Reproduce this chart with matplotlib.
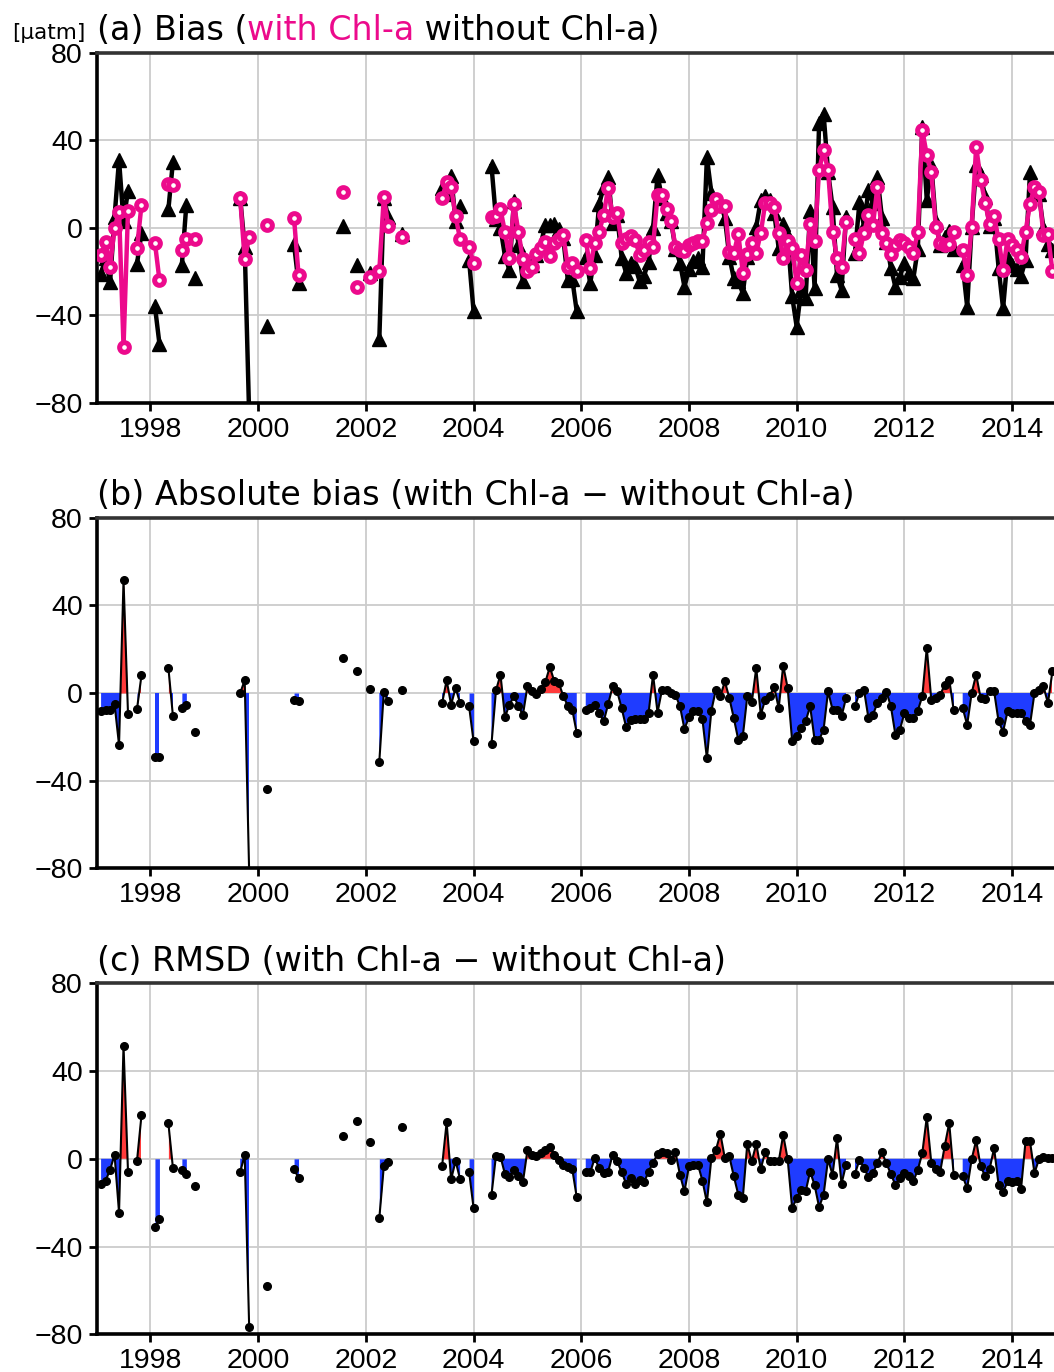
import numpy as np
import matplotlib
matplotlib.use('Agg')
import matplotlib.pyplot as plt
from matplotlib.transforms import offset_copy

nan = np.nan

# monthly values from Feb 1997, nan = no data
with_chl = [
    -12.5, -6.4, -18, 0, 7.3, -54.4, 7.8, nan, -9.5, 10.4, nan, nan,
    -6.9, -23.9, nan, 19.8, 19.5, nan, -10.2, -5.3, nan, -5.3, nan, nan,
    nan, nan, nan, nan, nan, nan, nan, 13.4, -14.5, -4.1, nan, nan,
    nan, 1.2, nan, nan, nan, nan, nan, 4.3, -21.6, nan, nan, nan,
    nan, nan, nan, nan, nan, nan, 16.5, nan, nan, -27.3, nan, nan,
    -22.4, nan, -19.7, 13.9, 0.9, nan, nan, -4.1, nan, nan, nan, nan,
    nan, nan, nan, nan, 13.4, 21, 18.4, 5.3, -5.3, nan, -8.7, -16,
    nan, nan, nan, 5, 5.3, 8.4, -2, -14, 10.8, -2, -14.5, -20,
    -17.8, -12, -9.5, -6.4, -13, -7.2, -5, -3.4, -18, -16, -20, nan,
    -5.6, -18.5, -6.8, -1.8, 5.8, 18.3, 5, 6.5, -6.8, -5, -4, -5.6,
    -12.5, -10, -6.4, -8.7, 15, 15, 8.4, 3.2, -8.7, -10, -10.5, -8,
    -7, -6, -6, 2.3, 8, 13, 10, 9.9, -11, -11.7, -2.9, -20.5,
    -12, -6.8, -11.4, -2.6, 11.4, 11.4, 9.6, -2.6, -14, -6, -9.4, -25.4,
    -12.5, -19.3, 1.7, -6, 26.3, 35.4, 26.3, -1.8, -14, -17.8, 2.7, nan,
    -5.3, -11.7, -2.3, 5.8, 1.2, 18.7, -2.3, -7.1, -12.2, -8, -5.6, -7,
    -9, -11.7, -1.8, 44.6, 33.2, 25.6, 0.5, -7.1, -8, -7.5, -1.8, nan,
    -10.2, -21.6, 0.5, 37, 22, 11.4, 1.5, 5.3, -5.3, -19.3, -5.3, -8,
    -10, -13.2, -1.8, 10.8, 18.7, 16.4, -3.3, -3, -20]

without_chl = [
    -21, -14, -25, 5, 31, 3, 17, nan, -16.5, -2.4, nan, nan,
    -36, -53, nan, 8.4, 30, nan, -17, 10.6, nan, -23, nan, nan,
    nan, nan, nan, nan, nan, nan, nan, 13.4, -8.7, -86, nan, nan,
    nan, -45, nan, nan, nan, nan, nan, -7.6, -25.4, nan, nan, nan,
    nan, nan, nan, nan, nan, nan, 0.7, nan, nan, -17, nan, nan,
    -20.7, nan, -51, 13.6, 4.7, nan, nan, -2.9, nan, nan, nan, nan,
    nan, nan, nan, nan, 18, 15.2, 23.7, 3, 9.9, nan, -14.7, -38,
    nan, nan, nan, 28.2, 4.1, 0, -13, -19.3, 12.3, -8, -24.5, -17,
    -17, -12.3, -7.5, 1.4, 1.1, 1.9, -0.4, -4.9, -23.8, -23.6, -38.3, nan,
    -13.2, -25.4, -12.3, 10.8, 18.8, 23.3, 2, 5.7, -13.7, -20.6, -16.2, -17.6,
    -24.4, -21.9, -15.6, -0.3, 23.9, 13.5, 6.9, 3.2, -9.7, -16, -27, -19,
    -15, -14, -18, 32.1, 16, 11.5, 11.5, 4.6, -13.3, -23.2, -24.3, -30,
    -13.5, -11.1, 0.5, 12.5, 14.4, 12.6, 6.9, -9.5, 1.5, -3.7, -31.4, -45.2,
    -28.5, -32.3, 7.7, -27.4, 47.7, 52.2, 25.5, 9.4, -21.6, -28.5, 5, nan,
    -11.4, 11.7, 0.8, 17.3, 11.1, 23.3, 4.6, -6.6, -18.3, -27, -22.4, -16.2,
    -20.5, -23.2, -9.8, 46.1, 12.6, 28.6, 2.8, -7.9, -4.2, -1.4, -9.7, nan,
    -17.1, -36.1, 0.5, 28.6, 24.3, 14.1, 0.7, 4.5, -18.3, -36.9, -13.7, -16.9,
    -18.9, -22.1, -14.8, 25.3, 18.7, 15.2, -0.3, -7.6, -10]

abs_bias_diff = [
    -8.4, -7.8, -7.6, -5, -23.7, 51.4, -9.6, nan, -7.3, 8, nan, nan,
    -29, -29, nan, 11.4, -10.3, nan, -6.7, -5.3, nan, -17.8, nan, nan,
    nan, nan, nan, nan, nan, nan, nan, 0, 5.8, -82, nan, nan,
    nan, -44, nan, nan, nan, nan, nan, -3.3, -3.8, nan, nan, nan,
    nan, nan, nan, nan, nan, nan, 15.8, nan, nan, 10.2, nan, nan,
    1.7, nan, -31.3, 0.3, -3.8, nan, nan, 1.2, nan, nan, nan, nan,
    nan, nan, nan, nan, -4.6, 5.8, -5.3, 2.3, -4.6, nan, -6, -22,
    nan, nan, nan, -23.2, 1.2, 8.4, -11, -5.3, -1.5, -6, -10, 3,
    0.8, -0.3, 2, 5, 11.9, 5.3, 4.6, -1.5, -5.8, -7.6, -18.3, nan,
    -7.6, -6.9, -5.5, -9, -13, -5, 3, 0.8, -6.9, -15.6, -12.2, -12,
    -11.9, -11.9, -9.2, 8.4, -8.9, 1.5, 1.5, 0, -1, -6, -16.5, -11,
    -8, -8, -12, -29.8, -8, 1.5, -1.5, 5.3, -2.3, -11.5, -21.4, -19.8,
    -1.5, -4.3, 11.5, -9.9, -3, -1.2, 2.7, -6.9, 12.5, 2.3, -22, -19.8,
    -16, -13, -6, -21.4, -21.4, -16.8, 0.8, -7.6, -7.6, -10.7, -2.3, nan,
    -6.1, 0, 1.5, -11.5, -9.9, -4.6, -2.3, 0.5, -6.1, -19, -16.8, -9.2,
    -11.5, -11.5, -8, -1.5, 20.6, -3, -2.3, -0.8, 3.8, 6.1, -7.9, nan,
    -6.9, -14.5, 0, 8.4, -2.3, -2.7, 0.8, 0.8, -13, -17.6, -8.4, -8.9,
    -8.9, -8.9, -13, -14.5, 0, 1.2, 3, -4.6, 10]

rmsd_diff = [
    -11.4, -10, -5, 1.8, -24.5, 51.5, -6, nan, -1, 19.8, nan, nan,
    -31.2, -27.5, nan, 16.1, -4, nan, -5, -7, nan, -12.3, nan, nan,
    nan, nan, nan, nan, nan, nan, nan, -6, 1.7, -76.7, nan, nan,
    nan, -58.2, nan, nan, nan, nan, nan, -4.6, -8.8, nan, nan, nan,
    nan, nan, nan, nan, nan, nan, 10.6, nan, nan, 17.2, nan, nan,
    7.6, nan, -27, -3.5, -1.5, nan, nan, 14.3, nan, nan, nan, nan,
    nan, nan, nan, nan, -3.2, 16.6, -9.3, -1, -9.3, nan, -5.8, -22.3,
    nan, nan, nan, -16.4, 1.5, 1, -7, -8.2, -5, -8, -10.6, 3.8,
    1.8, 1.1, 2.6, 4, 5.6, 1.8, -0.5, -2.7, -3.8, -4.7, -17.6, nan,
    -5.8, -6.2, 0.3, -4.3, -6.5, -5.8, 1.8, -1.2, -6, -11.4, -8.8, -11.4,
    -9.6, -10.8, -5.8, -1.7, 2, 2.9, 2.6, -0.5, 2.9, -7.3, -14.9, -3.5,
    -3, -2.7, -9.9, -19.9, 0.3, 4, 11.4, 0.3, 1.1, -8, -16.4, -17.9,
    6.8, -1.2, 6.8, -4.7, 3.3, -1.2, -1.2, -1.2, 10.9, -0.2, -22.5, -18,
    -14.1, -14.9, -5.8, -12, -22, -16.4, -0.2, -7.3, 9.4, -11.4, -2.7, nan,
    -6.8, -0.5, -4, -8.4, -6.5, -2, 2.9, -2, -7, -11.9, -8.8, -6.5,
    -8, -10.3, -5, 2.6, 19, -1.7, -4.7, -5.8, 5.9, 16.3, -7.3, nan,
    -8, -13.4, -0.2, 8.4, -3.5, -7.8, -4.7, 4.9, -11.9, -15.3, -10.3, -10.5,
    -10.3, -13.8, 7.9, 7.9, -6.5, -0.2, 0.6, 0.5, 0.3]

months = np.arange(len(with_chl))
t = 1997 + (months + 1) / 12.0

pink = '#ec0a8c'
red = '#ff3b3b'
blue = '#1f3cff'

plt.rcParams['font.family'] = 'Liberation Sans'
fig = plt.figure(figsize=(10.54, 13.72), dpi=100)
W, H = 1054.0, 1372.0


def add_ax(top_px, bot_px):
    left = 96.6
    right = 96.6 + 19 * 53.85   # 2016, past the right edge of the figure
    return fig.add_axes([left / W, 1 - bot_px / H, (right - left) / W, (bot_px - top_px) / H])


def style(ax):
    ax.set_xlim(1997, 2016)
    ax.set_ylim(-80, 80)
    ax.set_xticks(range(1998, 2016, 2))
    ax.set_yticks([-80, -40, 0, 40, 80])
    ax.grid(True, color='#cccccc', lw=1.3)
    ax.set_axisbelow(True)
    for s in ax.spines.values():
        s.set_linewidth(2.6)
    ax.spines['top'].set_color('#333333')
    ax.tick_params(labelsize=20.5, length=6, width=2, direction='out', pad=4)


def title_parts(ax, parts, y=1.035, size=24):
    r = fig.canvas.get_renderer()
    tr = ax.transAxes
    for s, c in parts:
        tx = ax.text(0, y, s, color=c, transform=tr, fontsize=size,
                     family='DejaVu Sans', va='baseline', ha='left')
        tx.draw(r)
        ex = tx.get_window_extent(r)
        tr = offset_copy(tx.get_transform(), x=ex.width, units='dots')


def diff_panel(ax, vals):
    y = np.array(vals, dtype=float)
    ok = ~np.isnan(y)
    i = 0
    while i < len(y):
        if not ok[i]:
            i += 1
            continue
        j = i
        while j + 1 < len(y) and ok[j + 1]:
            j += 1
        if j > i:
            xs, ys = t[i:j + 1], y[i:j + 1]
            ax.fill_between(xs, 0, ys, where=ys >= 0, color=red, interpolate=True, lw=0, zorder=2)
            ax.fill_between(xs, 0, ys, where=ys <= 0, color=blue, interpolate=True, lw=0, zorder=2)
        i = j + 1
    ax.plot(t, y, color='k', lw=1.5, marker='o', ms=5.5, zorder=3)


# (a) bias
ax1 = add_ax(52.7, 402.7)
style(ax1)
ax1.plot(t, without_chl, color='k', lw=3.2, marker='^', ms=10.5, zorder=3)
ax1.plot(t, with_chl, color=pink, lw=3.2, marker='o', ms=7, mfc='white', mec=pink, mew=3.6, zorder=4)
title_parts(ax1, [('(a) Bias (', 'k'), ('with Chl-a', pink), (' without Chl-a)', 'k')])
fig.text(12 / W, 1 - 39 / H, '[\u03bcatm]', fontsize=15.5, family='DejaVu Sans', va='baseline')

# (b) absolute bias difference
ax2 = add_ax(517.7, 868.3)
style(ax2)
diff_panel(ax2, abs_bias_diff)
title_parts(ax2, [('(b) Absolute bias (with Chl-a \u2212 without Chl-a)', 'k')])

# (c) RMSD difference
ax3 = add_ax(983.3, 1334.3)
style(ax3)
diff_panel(ax3, rmsd_diff)
title_parts(ax3, [('(c) RMSD (with Chl-a \u2212 without Chl-a)', 'k')])

fig.savefig('out.png', dpi=100)
